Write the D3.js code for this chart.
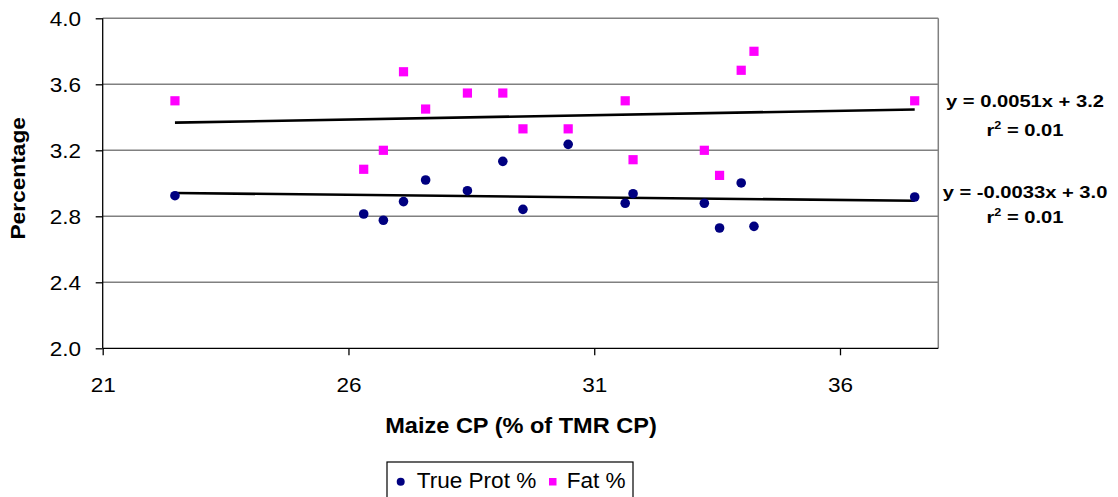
<!DOCTYPE html>
<head>
    <meta charset="utf-8">
    <script src="https://d3js.org/d3.v7.min.js"></script>
    <style>
        *{ margin:0; padding:0; }
        body{ background:#fff; font-family: "Liberation Sans", Arial, sans-serif; }
        text{ fill:#000; }
    </style>
</head>
<body>
<svg id="chart"></svg>
<script>

    //maize CP (% of TMR CP), one per diet
    let maizeCP  = [22.47, 26.31, 26.71, 27.12, 27.57, 28.42, 29.14, 29.55, 30.47, 31.63, 31.79, 33.24, 33.55, 33.99, 34.25, 37.52];
    let trueProt = [2.925, 2.814, 2.776, 2.889, 3.020, 2.955, 3.133, 2.842, 3.236, 2.879, 2.937, 2.879, 2.729, 3.002, 2.739, 2.917];
    let fat      = [3.50, 3.085, 3.20, 3.676, 3.45, 3.547, 3.547, 3.33, 3.33, 3.50, 3.143, 3.20, 3.048, 3.685, 3.80, 3.50];

    //axis ticks
    let xTicks = [21, 26, 31, 36];
    let yTicks = [2.0, 2.4, 2.8, 3.2, 3.6, 4.0];

    //trendline labels as printed
    let fatEq  = ["y = 0.0051x + 3.2", "0.01"];
    let protEq = ["y = -0.0033x + 3.0", "0.01"];


    let W = 1118, H = 497;
    let svg = d3.select("#chart").attr("width", W).attr("height", H);

    let pLeft = 102.7, pRight = 938.3, pTop = 18.3, pBottom = 348.3;

    let x = d3.scaleLinear().domain([21, 38]).range([pLeft, pRight]);
    let y = d3.scaleLinear().domain([2.0, 4.0]).range([pBottom, pTop]);

    //text in the picture is a little wider than the font
    let label = (px, py, str, size, opts = {}) => {
        let g = svg.append("g")
            .attr("transform", `translate(${px},${py}) rotate(${opts.rot || 0}) scale(${opts.sx || 1},1)`);
        return g.append("text")
            .attr("text-anchor", opts.anchor || "start")
            .attr("font-size", size)
            .attr("font-weight", opts.bold ? "bold" : "normal")
            .text(str);
    };


    //gridlines
    svg.append("g")
        .selectAll("line")
        .data(yTicks.filter(d => d > 2.0))
        .enter()
        .append("line")
        .attr("x1", pLeft).attr("x2", pRight)
        .attr("y1", d => y(d)).attr("y2", d => y(d))
        .attr("stroke", "#808080")
        .attr("stroke-width", 1.5);

    //plot frame, right side
    svg.append("line")
        .attr("x1", pRight).attr("x2", pRight)
        .attr("y1", pTop).attr("y2", pBottom)
        .attr("stroke", "#808080")
        .attr("stroke-width", 1.5);


    //axes
    let tickSx = 1.1;
    let xAxis = d3.axisBottom(x).tickValues(xTicks).tickSize(7).tickFormat(d3.format("d"));
    let yAxis = d3.axisLeft(y).tickValues(yTicks).tickSize(7).tickFormat(d3.format(".1f"));

    let gx = svg.append("g").attr("transform", `translate(0,${pBottom})`).call(xAxis);
    let gy = svg.append("g").attr("transform", `translate(${pLeft},0)`).call(yAxis);

    [gx, gy].forEach(g => {
        g.select(".domain").attr("stroke", "#000").attr("stroke-width", 1.3);
        g.selectAll(".tick line").attr("stroke", "#000").attr("stroke-width", 1.3);
        g.selectAll(".tick text")
            .attr("font-family", "'Liberation Sans', Arial, sans-serif")
            .attr("font-size", 20.5)
            .attr("fill", "#000")
            .attr("transform", `scale(${tickSx},1)`);
    });
    gx.select(".domain").attr("d", `M${pLeft},0H${pRight}`);
    gy.select(".domain").attr("d", `M0,${pTop}V${pBottom}`);
    gx.selectAll(".tick text").attr("y", 44).attr("dy", null);
    gy.selectAll(".tick text").attr("x", -21.7 / tickSx).attr("dy", "0.35em");


    //least squares trend
    let fit = (xs, ys) => {
        let mx = d3.mean(xs), my = d3.mean(ys);
        let b = d3.sum(xs, (v, i) => (v - mx) * (ys[i] - my)) / d3.sum(xs, v => (v - mx) * (v - mx));
        return { b: b, a: my - b * mx };
    };

    let xExt = d3.extent(maizeCP);
    [fat, trueProt].forEach(ys => {
        let f = fit(maizeCP, ys);
        svg.append("line")
            .attr("x1", x(xExt[0])).attr("x2", x(xExt[1]))
            .attr("y1", y(f.a + f.b * xExt[0]))
            .attr("y2", y(f.a + f.b * xExt[1]))
            .attr("stroke", "#000")
            .attr("stroke-width", 2.6);
    });


    //points
    svg.append("g")
        .selectAll("circle")
        .data(maizeCP)
        .enter()
        .append("circle")
        .attr("cx", d => x(d))
        .attr("cy", (d, i) => y(trueProt[i]))
        .attr("r", 4.8)
        .attr("fill", "#000080");

    svg.append("g")
        .selectAll("rect")
        .data(maizeCP)
        .enter()
        .append("rect")
        .attr("x", d => x(d) - 4.6)
        .attr("y", (d, i) => y(fat[i]) - 4.6)
        .attr("width", 9.2)
        .attr("height", 9.2)
        .attr("fill", "#ff00ff");


    //axis titles
    label(521, 432.7, "Maize CP (% of TMR CP)", 21.4, { bold: true, anchor: "middle", sx: 1.1 });
    label(25, 178.3, "Percentage", 20.5, { bold: true, anchor: "middle", rot: -90, sx: 1.11 });


    //equations
    let eq = (lines, y1, y2) => {
        label(1025, y1, lines[0], 16.8, { bold: true, anchor: "middle", sx: 1.2 });
        let t = label(1025, y2, "", 16.8, { bold: true, anchor: "middle", sx: 1.2 });
        t.append("tspan").text("r");
        t.append("tspan").attr("font-size", 10.5).attr("dy", -7.5).text("2");
        t.append("tspan").attr("dy", 7.5).text(" = " + lines[1]);
    };
    eq(fatEq, 106.7, 136);
    eq(protEq, 198.3, 223);


    //legend
    svg.append("rect")
        .attr("x", 387).attr("y", 462)
        .attr("width", 246).attr("height", 40)
        .attr("fill", "#fff")
        .attr("stroke", "#000")
        .attr("stroke-width", 1.2);

    svg.append("circle")
        .attr("cx", 400.7).attr("cy", 481.7).attr("r", 4)
        .attr("fill", "#000080");
    label(416.7, 488.3, "True Prot %", 21.5, { sx: 1.05 });

    svg.append("rect")
        .attr("x", 549).attr("y", 478).attr("width", 7.5).attr("height", 7.5)
        .attr("fill", "#ff00ff");
    label(566.7, 488.3, "Fat %", 21.5, { sx: 1.05 });

</script>
</body>
